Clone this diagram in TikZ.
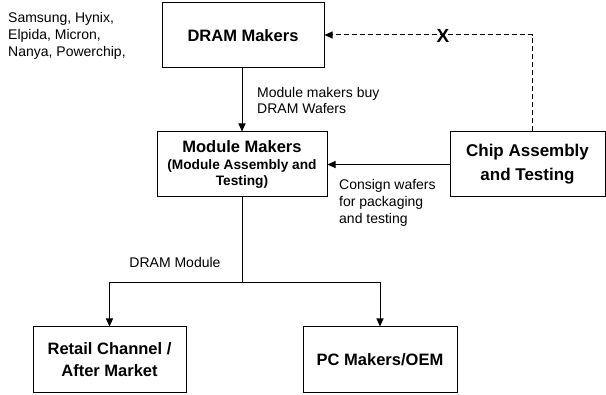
\documentclass[tikz,border=0pt]{standalone}
\usepackage{fontspec}
\setmainfont{Liberation Sans}
\usetikzlibrary{arrows.meta}
\begin{document}
\begin{tikzpicture}[x=1pt,y=-1pt,
  box/.style={draw,line width=1pt,inner sep=0pt,align=center,
    font=\fontsize{16.5}{22}\selectfont\bfseries},
  lbl/.style={align=left,inner sep=0pt,font=\fontsize{14}{17}\selectfont},
  conn/.style={line width=1pt,-{Triangle[length=8pt,width=7pt]}},
  plain/.style={line width=1pt}]
\useasboundingbox (0,0) rectangle (606,395);
\node[box,minimum width=162pt,minimum height=65pt] (dram) at (243,35.5) {DRAM Makers};
\node[box,minimum width=170pt,minimum height=65pt,font=\fontsize{13.7}{16.5}\selectfont\bfseries] (module) at (242,164.5)
  {{\fontsize{16.5}{20}\selectfont Module Makers}\\(Module Assembly and\\Testing)};
\node[box,minimum width=155pt,minimum height=65pt,font=\fontsize{17}{24}\selectfont\bfseries] (chip) at (527.5,164.5) {Chip Assembly\\and Testing};
\node[box,minimum width=153pt,minimum height=66pt,font=\fontsize{16.5}{22}\selectfont\bfseries] (retail) at (109.5,360) {Retail Channel /\\After Market};
\node[box,minimum width=154pt,minimum height=66pt] (pc) at (380,360) {PC Makers/OEM};

\node[lbl,anchor=west] (makers) at (8,35.5) {Samsung, Hynix,\\Elpida, Micron,\\Nanya, Powerchip,};
\node[lbl,anchor=west,font=\fontsize{14}{16}\selectfont] (buy) at (257,100) {Module makers buy\\DRAM Wafers};
\node[lbl,anchor=west] (consign) at (339,202.5) {Consign wafers\\for packaging\\and testing};
\node[lbl] (dmod) at (175,262) {DRAM Module};

\draw[conn] (dram.south -| module) -- (module.north);
\draw[conn] (chip.west) -- (module.east);

\coordinate (bend) at (532,35);
\draw[conn,dash pattern=on 5pt off 3pt] (chip.north -| bend) -- (bend) -- (bend -| dram.east);
\node[inner sep=0pt,font=\fontsize{19}{19}\selectfont\bfseries] (x) at (443,35.5) {X};

\coordinate (split) at (242,283);
\draw[plain] (module.south) -- (split);
\draw[conn] (split) -| (retail.north);
\draw[conn] (split) -| (pc.north);
\end{tikzpicture}
\end{document}
